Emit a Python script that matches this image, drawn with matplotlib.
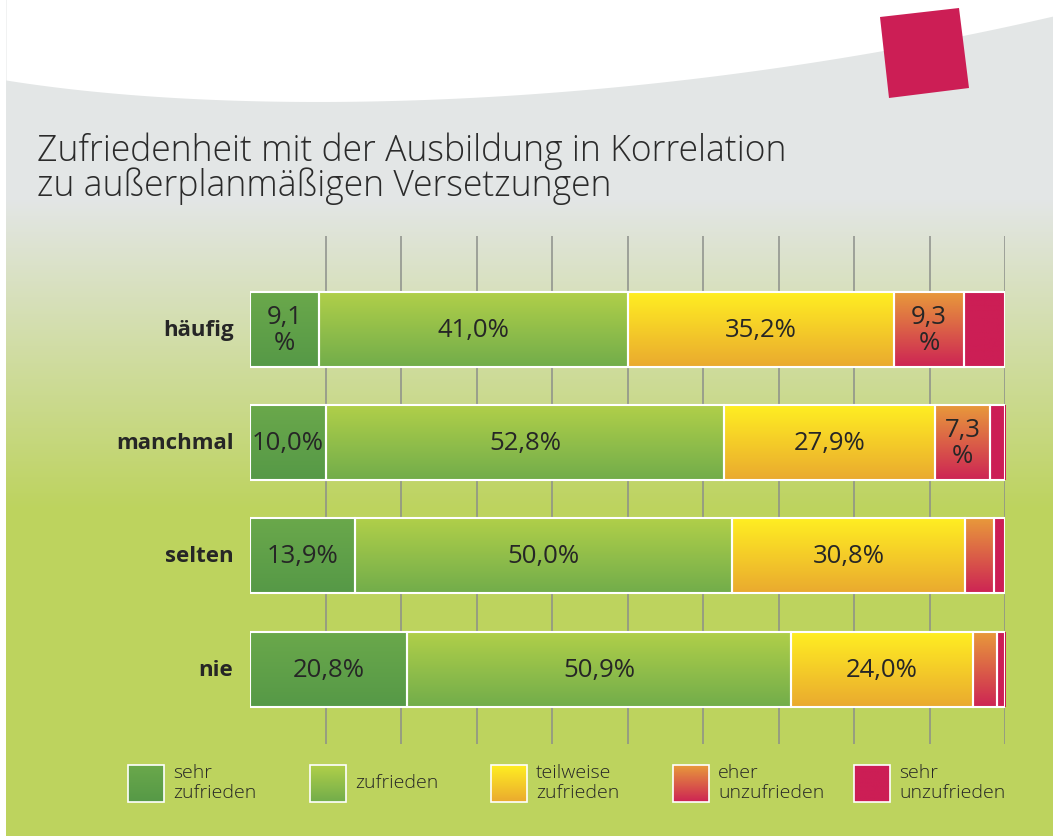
import numpy as np
import matplotlib
matplotlib.use("Agg")
import matplotlib.pyplot as plt
from matplotlib.colors import to_rgb
from matplotlib.patches import Rectangle, Polygon

# data
categories = ["häufig", "manchmal", "selten", "nie"]
series = ["sehr\nzufrieden", "zufrieden", "teilweise\nzufrieden", "eher\nunzufrieden", "sehr\nunzufrieden"]
sehr_zufrieden = [9.1, 10.0, 13.9, 20.8]
zufrieden = [41.0, 52.8, 50.0, 50.9]
teilweise = [35.2, 27.9, 30.8, 24.0]
eher_unzufrieden = [9.3, 7.3, 3.9, 3.2]
sehr_unzufrieden = [5.4, 2.0, 1.4, 1.1]
values = [sehr_zufrieden, zufrieden, teilweise, eher_unzufrieden, sehr_unzufrieden]
show_labels = [True, True, True, True, False]
title_lines = ["Zufriedenheit mit der Ausbildung in Korrelation", "zu außerplanmäßigen Versetzungen"]

# gradient colours (top, bottom) for each series
grad_top = ["#6aa84b", "#b0cf49", "#ffee22", "#e8993b", "#cc1e55"]
grad_bot = ["#569947", "#72ad4b", "#eaaa2f", "#cd2454", "#cc1e55"]

W, H = 1053, 837
fig = plt.figure(figsize=(W / 100, H / 100), dpi=100)
fig.patch.set_facecolor("white")


def vgrad(top, bot, n=64):
    t = np.linspace(0, 1, n)[:, None, None]
    return (1 - t) * np.array(to_rgb(top)) + t * np.array(to_rgb(bot))


# background in pixel coordinates
bg = fig.add_axes([0, 0, 1, 1])
bg.set_xlim(0, W)
bg.set_ylim(H, 0)
bg.axis("off")
ys = np.arange(H)
frac = np.clip((ys - 200) / (510 - 200), 0, 1)[:, None, None]
gray = np.array(to_rgb("#e3e6e6"))
green = np.array(to_rgb("#bdd35e"))
bg_img = (1 - frac) * gray + frac * green
bg.imshow(bg_img, extent=(6, W, H, 0), aspect="auto", zorder=0)
bg.add_patch(Rectangle((0, 0), 6, H, facecolor="white", edgecolor="none", zorder=1))

# curved white top
t = np.linspace(0, 1, 200)
p0, p1, p2, p3 = np.array([6, 81]), np.array([250, 120]), np.array([650, 110]), np.array([W, 17])
curve = ((1 - t) ** 3)[:, None] * p0 + (3 * (1 - t) ** 2 * t)[:, None] * p1 \
    + (3 * (1 - t) * t ** 2)[:, None] * p2 + (t ** 3)[:, None] * p3
bg.fill_between(curve[:, 0], 0, curve[:, 1], color="white", zorder=1, lw=0)
bg.add_patch(Polygon([[880, 18], [959, 9], [969, 89], [889, 99]], closed=True,
                     facecolor="#cc1e55", edgecolor="none", zorder=2))

for i, line in enumerate(title_lines):
    bg.text(37, 161 + 35 * i, line, fontsize=25.6, family="Open Sans", fontweight="light",
            color="#2b2b2b", va="baseline", ha="left")

# chart axes
x0, x1 = 250, 1005
y_top, y_bot = 237, 745
ax = fig.add_axes([x0 / W, (H - y_bot) / H, (x1 - x0) / W, (y_bot - y_top) / H])
ax.patch.set_alpha(0)
for s in ax.spines.values():
    s.set_visible(False)
ax.set_xticks([])
ax.set_yticks([])

step = 113.2
bar_h = 75 / step
for gx in range(10, 101, 10):
    ax.axvline(gx, color="#8c8f8a", lw=1.1, zorder=1)

ypos = np.arange(len(categories))
left = np.zeros(len(categories))
for si, vals in enumerate(values):
    img = vgrad(grad_top[si], grad_bot[si])
    for ci, v in enumerate(vals):
        yc = ypos[ci]
        ax.imshow(img, extent=(left[ci], left[ci] + v, yc + bar_h / 2, yc - bar_h / 2),
                  aspect="auto", zorder=2)
        ax.add_patch(Rectangle((left[ci], yc - bar_h / 2), v, bar_h, facecolor="none",
                               edgecolor="white", lw=1.5, zorder=3))
        if show_labels[si] and v >= 5:
            lab = f"{v:.1f}".replace(".", ",")
            lab = lab + "\n%" if v < 10 else lab + "%"
            ax.text(left[ci] + v / 2, yc, lab, ha="center", va="center", fontsize=18.5,
                    family="Open Sans", color="#262626", zorder=4, linespacing=1.05)
    left += np.array(vals)

for ci, cat in enumerate(categories):
    ax.text(-2.2, ypos[ci], cat, ha="right", va="center", fontsize=16, family="Open Sans",
            fontweight="bold", color="#262626")

ax.set_xlim(0, 100)
ax.set_ylim((y_bot - 330.5) / step, -(330.5 - y_top) / step)

# legend
leg_x = [128, 310, 491, 673, 854]
for si, name in enumerate(series):
    lx = leg_x[si]
    bg.imshow(vgrad(grad_top[si], grad_bot[si]), extent=(lx, lx + 36, 803, 766),
              aspect="auto", zorder=3)
    bg.add_patch(Rectangle((lx, 766), 36, 37, facecolor="none", edgecolor="white",
                           lw=1.2, zorder=4))
    bg.text(lx + 45, 783, name, fontsize=14, family="Open Sans", fontweight="light",
            color="#262626", va="center", ha="left", linespacing=1.1, zorder=4)

bg.set_xlim(0, W)
bg.set_ylim(H, 0)

fig.savefig("out.png", dpi=100)
